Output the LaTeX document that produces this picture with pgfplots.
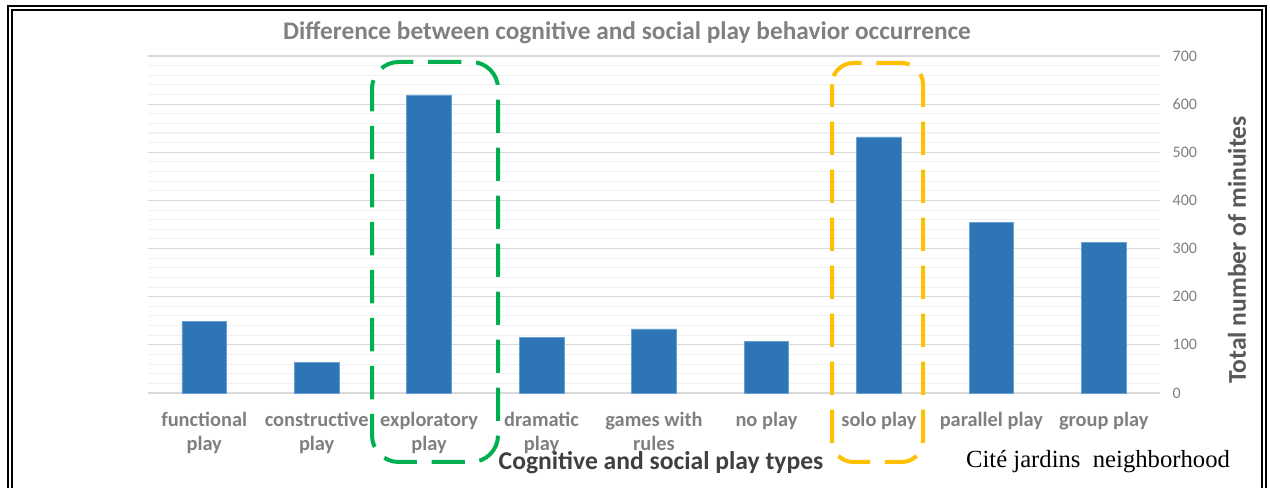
\documentclass[border=0pt]{standalone}
\usepackage{fontspec}
\setmainfont{Carlito}
\newfontfamily\tnr{Liberation Serif}
\usepackage{pgfplots}
\pgfplotsset{compat=1.18}

\definecolor{barblue}{HTML}{2E75B6}
\definecolor{baredge}{HTML}{6A9FD4}
\definecolor{gmaj}{HTML}{D9D9D9}
\definecolor{gmin}{HTML}{F0F0F0}
\definecolor{ticktxt}{HTML}{7F7F7F}
\definecolor{titletxt}{HTML}{808080}
\definecolor{labtxt}{HTML}{595959}
\definecolor{xlabtxt}{HTML}{404040}
\definecolor{boxgreen}{HTML}{00B050}
\definecolor{boxyellow}{HTML}{FFC000}

\begin{document}
\begin{tikzpicture}
\useasboundingbox (0,0) rectangle (952.5pt,366pt);

\begin{axis}[
  at={(111pt,71.25pt)}, anchor=south west,
  scale only axis, width=759pt, height=252.75pt,
  ybar, bar width=33.5pt,
  xmin=-0.5, xmax=8.5, ymin=0, ymax=700,
  xtick=data,
  xticklabels={{functional\\play},{constructive\\play},{exploratory\\play},{dramatic\\play},{games with\\rules},{no play},{solo play},{parallel play},{group play}},
  xticklabel style={align=center, text=ticktxt, font=\fontsize{15.3}{18}\selectfont\bfseries, yshift=-11pt, anchor=north},
  ytick={0,100,...,700},
  minor ytick={20,40,...,680},
  yticklabel pos=right,
  yticklabel style={text=ticktxt, font=\fontsize{12}{14}\selectfont, xshift=6pt},
  /pgf/number format/assume math mode=true,
  ymajorgrids, yminorgrids,
  major grid style={gmaj, line width=0.8pt},
  minor grid style={gmin, line width=0.8pt},
  major tick length=0pt, minor tick length=0pt,
  axis x line*=bottom, axis y line*=right,
  x axis line style={gmaj, line width=0.8pt, -},
  y axis line style={draw=none},
  clip=false,
]
\addplot[fill=barblue, draw=baredge, line width=0.5pt] coordinates {
  (0,148) (1,64) (2,619) (3,116) (4,133) (5,108) (6,532) (7,355) (8,312)
};
\end{axis}

\begin{scope}[x=0.75pt, y=-0.75pt, shift={(0pt,366pt)}]
  % frame
  \draw[line width=1.5pt] (8,520) -- (8,6) -- (1266,6) -- (1266,520);
  \draw[line width=0.9pt] (12,520) -- (12,10) -- (1262,10) -- (1262,520);
  % titles
  \node[text=titletxt, font=\fontsize{19}{22}\selectfont\bfseries] at (627,33) {Difference between cognitive and social play behavior occurrence};
  \node[text=xlabtxt, font=\fontsize{19.2}{22}\selectfont\bfseries] at (661,463) {Cognitive and social play types};
  \node[rotate=90, text=labtxt, font=\fontsize{19.2}{22}\selectfont\bfseries] at (1237,250) {Total number of minuites};
  \node[font=\fontsize{18.5}{22}\selectfont\tnr] at (1098,462) {Cité jardins\ \ neighborhood};
  % highlight boxes
  \draw[boxgreen, line width=3pt, dash pattern=on 25pt off 11pt, dash phase=8pt, rounded corners=20pt] (372,62) rectangle (498,462);
  \draw[boxyellow, line width=3pt, dash pattern=on 25pt off 11pt, dash phase=8pt, rounded corners=16pt] (832,63) rectangle (923,462);
\end{scope}
\end{tikzpicture}
\end{document}
